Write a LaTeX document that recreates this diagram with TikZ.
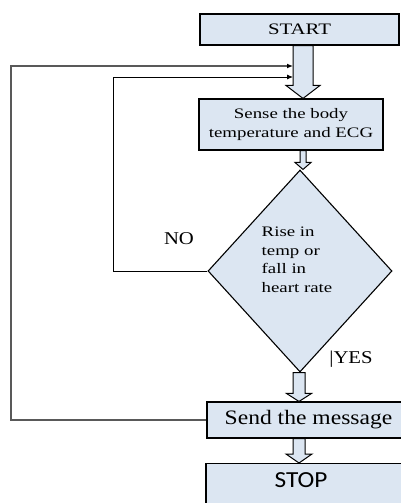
\documentclass[tikz,border=0pt]{standalone}
\usepackage{fontspec}
\setmainfont{Liberation Serif}
\newfontfamily\serA[FakeStretch=1.3]{Liberation Serif}
\newfontfamily\serB[FakeStretch=1.15]{Liberation Serif}
\newfontfamily\sanC[FakeStretch=1.1]{Carlito}
\usetikzlibrary{shapes.geometric,calc,arrows.meta}
\definecolor{boxfill}{HTML}{DCE6F2}
\tikzset{
  box/.style={draw=black, fill=boxfill, line width=1.1pt, rectangle, inner sep=0pt},
  decision/.style={draw=black, fill=boxfill, line width=1.1pt, diamond, inner sep=0pt},
  blockarr/.style={draw=black, fill=boxfill, line width=1pt, line join=miter},
  innerloop/.style={draw=black, line width=0.9pt, -{Latex[length=6pt,width=5pt]}},
  outerloop/.style={draw=black!65, line width=1.6pt, -{Latex[length=6pt,width=5pt,fill=black,color=black]}},
  smalltxt/.style={font=\serA\fontsize{14.5}{19}\selectfont},
  lbl/.style={font=\serB\fontsize{18}{20}\selectfont, inner sep=0pt}
}
% #1 source node, #2 target node, #3 centre x, #4 shaft half width, #5 head half width, #6 head length
\newcommand\blockarrow[6]{%
  \coordinate (bx) at (#3,0);
  \draw[blockarr] ($(bx|-#1.south)+(-#4,0)$) -- ($(bx|-#2.north)+(-#4,-#6)$)
    -- ($(bx|-#2.north)+(-#5,-#6)$) -- (bx|-#2.north) -- ($(bx|-#2.north)+(#5,-#6)$)
    -- ($(bx|-#2.north)+(#4,-#6)$) -- ($(bx|-#1.south)+(#4,0)$) -- cycle;}
\begin{document}
\begin{tikzpicture}[x=1pt,y=-1pt]
\useasboundingbox (0,0) rectangle (401,503);

\node[box, minimum width=199, minimum height=31, font=\serA\fontsize{16}{19}\selectfont] (start) at (299.5,29.5) {START};
\node[box, minimum width=184, minimum height=51, smalltxt, align=center] (sense) at (291,124.5) {Sense the body\\temperature and ECG};
\node[decision, minimum width=184, minimum height=202] (dec) at (300,271) {};
\node[font=\serA\fontsize{14.5}{18.5}\selectfont, align=left, inner sep=0pt] (dectext) at (297,260) {Rise in\\temp or\\fall in\\heart rate};
\node[box, minimum width=203, minimum height=36, font=\serB\fontsize{20.5}{24}\selectfont] (send) at (308.5,420) {Send the message};
\node[box, minimum width=204, minimum height=62, anchor=north] (stop) at (308,463) {};
\node[font=\sanC\fontsize{23}{26}\selectfont, inner sep=0pt] (stoptext) at (301,480.5) {STOP};

\node[lbl] (no) at (179,239) {NO};
\node[lbl] (yes) at (351,359) {\textbar YES};

\coordinate (in1) at (293,66);
\coordinate (in2) at (293,77);
\coordinate (c1) at (11,66);
\coordinate (c2) at (113,77);

\draw[outerloop] (send.west) -| (c1) -- (in1);
\draw[innerloop] (dec.west) -| (c2) -- (in2);

\blockarrow{start}{sense}{303}{10}{17}{13}
\blockarrow{sense}{dec}{303}{3}{8}{7}
\blockarrow{dec}{send}{299}{6}{12.5}{8}
\blockarrow{send}{stop}{299}{6}{13}{9}
\end{tikzpicture}
\end{document}
